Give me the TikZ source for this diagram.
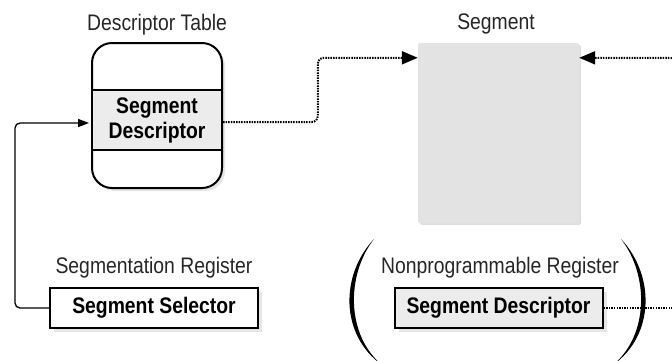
\documentclass[tikz,border=0pt]{standalone}
\usepackage{fontspec}
\setmainfont{Liberation Sans}[FakeStretch=0.86]
\usetikzlibrary{shadows,calc,arrows.meta}
\begin{document}
\begin{tikzpicture}[x=1pt,y=-1pt,
		font=\fontsize{22.5}{25}\selectfont,
		title node/.style = {inner sep=0pt, text=black!85},
		reg node/.style = {draw, line width=2pt, minimum width=208pt, minimum height=40pt, inner sep=0pt,
			font=\fontsize{22.5}{25}\selectfont\bfseries,
			drop shadow={shadow xshift=4pt, shadow yshift=-4pt, opacity=.2}},
		dots/.style = {line width=2pt, dash pattern=on 1.5pt off 1.1pt},
		big tip/.style = {-{Triangle[length=16pt,width=13pt]}}]
		
		\useasboundingbox (0,0) rectangle (672,360);
		
		% descriptor table
		\node[title node] (dtt) at (157,25) {Descriptor Table};
		\node[draw, line width=2pt, rounded corners=20pt, minimum width=130pt, minimum height=145pt,
			fill=white, drop shadow={shadow xshift=3pt, shadow yshift=-3pt, opacity=.2}] (dtab) at (157,115.5) {};
		\node[draw, line width=2pt, fill=gray!15, minimum width=130pt, minimum height=60pt, inner sep=0pt,
			align=center, font=\fontsize{22.5}{25}\selectfont\bfseries] (dband) at (157,120) {Segment\\Descriptor};
		
		% segment
		\node[title node] (segt) at (496,24) {Segment};
		\node[fill=gray!22, minimum width=161pt, minimum height=180pt, rounded corners=2pt,
			drop shadow={shadow xshift=2pt, shadow yshift=-2pt, opacity=.25}] (seg) at (498.5,133) {};
		
		% registers
		\node[title node] (selt) at (154,268) {Segmentation Register};
		\node[reg node, fill=white] (sel) at (154,308) {Segment Selector};
		\node[title node] (nprt) at (500,268) {Nonprogrammable Register};
		\node[reg node, fill=gray!15] (npr) at (498.5,308) {Segment Descriptor};
		
		% parentheses
		\fill (374,239) .. controls (340,275) and (340,335) .. (382,365)
		.. controls (346,335) and (346,275) .. (374,239);
		\fill (621,239) .. controls (655,275) and (655,335) .. (613,365)
		.. controls (649,335) and (649,275) .. (621,239);
		
		\coordinate (rin) at (672,58);
		\coordinate (rout) at (672,308);
		
		\draw[line width=1.3pt, rounded corners=5pt, -{Triangle[length=11pt,width=8pt]}, shorten >=2pt]
		(sel.west) -| ($(dband.west)+(-76,3)$) -- ($(dband.west)+(0,3)$);
		\draw[dots, big tip, rounded corners=6pt]
		($(dband.east)+(0,2)$) -| ($(seg.north west)+(-100,15)$) -- ($(seg.north west)+(0,15)$);
		\draw[dots, big tip] (rin) -- ($(seg.north east)+(0,15)$);
		\draw[dots] (npr.east) -- (rout);
		\end{tikzpicture}
\end{document}
